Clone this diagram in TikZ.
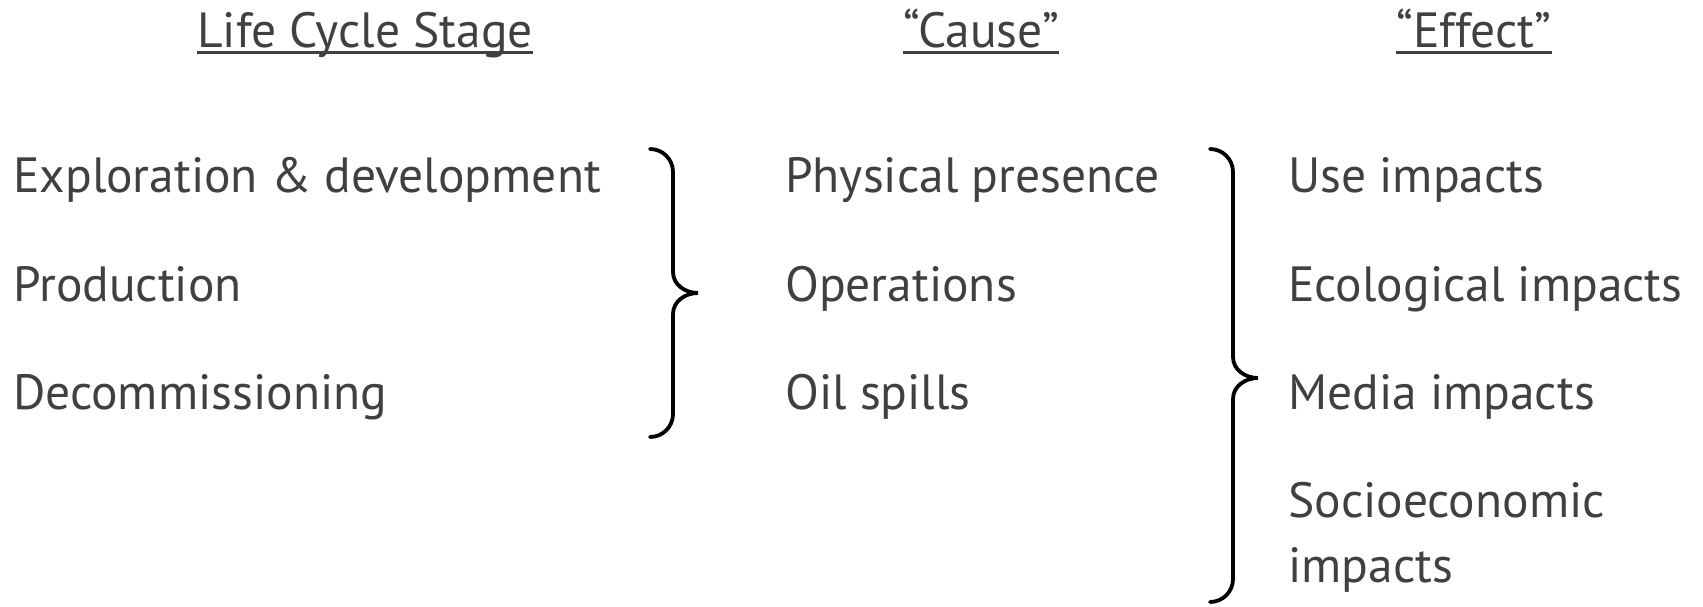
\documentclass[tikz,border=0pt]{standalone}
\usepackage{fontspec}
\setmainfont{PT Sans}
\definecolor{txt}{HTML}{404040}
\begin{document}
\begin{tikzpicture}[x=1pt,y=-1pt,
  lbl/.style={anchor=base west,inner sep=0pt,text=txt,font=\fontsize{49.5}{60}\selectfont},
  head/.style={anchor=base,inner sep=0pt,text=txt,font=\fontsize{49.5}{60}\selectfont},
  uline/.style={draw=txt,line width=3pt},
  brace/.style={draw=black,line width=3.8pt,line cap=round}]
\useasboundingbox (0,0) rectangle (1703,607);
% headings
\node[head] (h1) at (365,48) {Life Cycle Stage};
\node[head] (h2) at (981,48) {“Cause”};
\node[head] (h3) at (1474,48) {“Effect”};
\foreach \h in {h1,h2,h3}
  \draw[uline] ([yshift=-5pt]\h.base west) -- ([yshift=-5pt]\h.base east);
% column 1
\node[lbl] (a1) at (13,193) {Exploration \& development};
\node[lbl] (a2) at (13,301) {Production};
\node[lbl] (a3) at (13,409) {Decommissioning};
% column 2
\node[lbl] (b1) at (785,193) {Physical presence};
\node[lbl] (b2) at (785,301) {Operations};
\node[lbl] (b3) at (785,409) {Oil spills};
% column 3
\node[lbl] (c1) at (1288,193) {Use impacts};
\node[lbl] (c2) at (1288,301) {Ecological impacts};
\node[lbl] (c3) at (1288,409) {Media impacts};
\node[lbl] (c4) at (1288,517) {Socioeconomic};
\node[lbl] (c5) at (1288,582) {impacts};
% brace 1
\coordinate (t1) at (650,149);
\coordinate (p1) at (698,293);
\coordinate (e1) at (650,437);
\draw[brace] (t1) to[out=0,in=90] (673,172) -- (673,272) to[out=-90,in=180] (p1)
  to[out=180,in=90] (673,314) -- (673,414) to[out=-90,in=0] (e1);
% brace 2
\coordinate (t2) at (1210,149);
\coordinate (p2) at (1258,378);
\coordinate (e2) at (1210,602);
\draw[brace] (t2) to[out=0,in=90] (1233,172) -- (1233,357) to[out=-90,in=180] (p2)
  to[out=180,in=90] (1233,399) -- (1233,579) to[out=-90,in=0] (e2);
\end{tikzpicture}
\end{document}
